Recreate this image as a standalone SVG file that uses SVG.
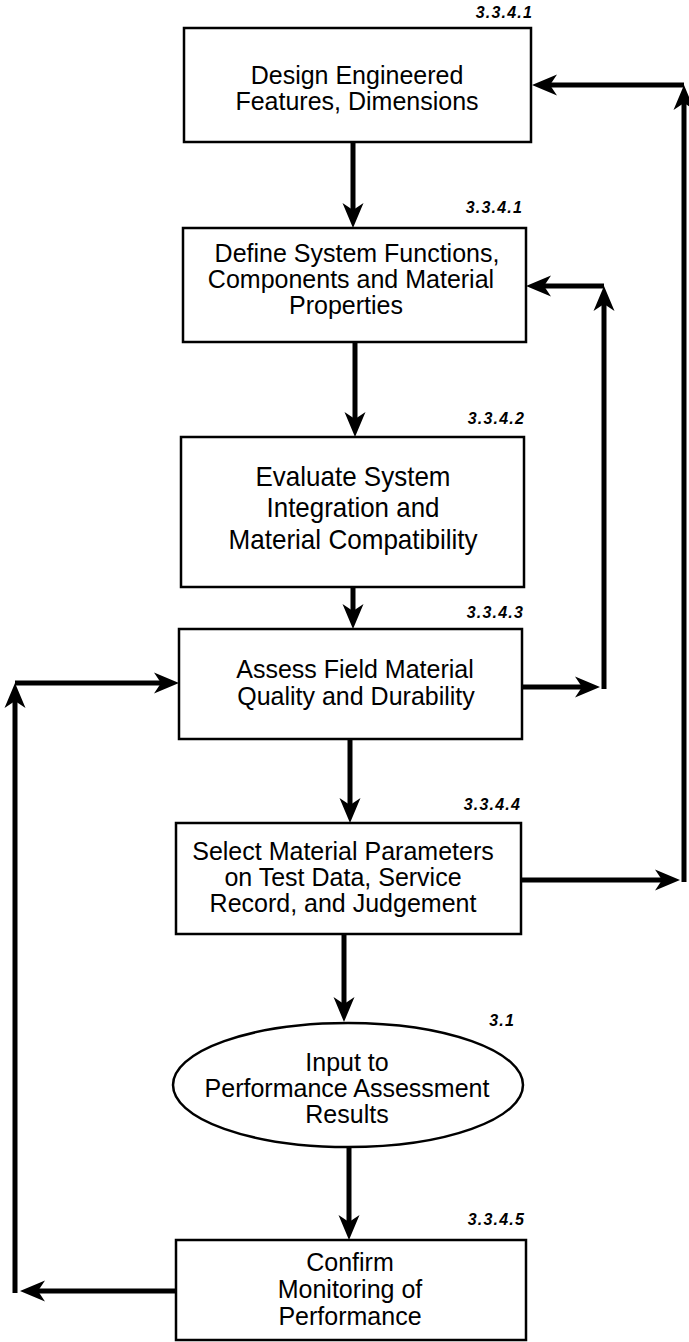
<svg xmlns="http://www.w3.org/2000/svg" width="689" height="1342" viewBox="0 0 689 1342">
<style>
.box{fill:#fff;stroke:#000;stroke-width:2.5}
.t{font-family:"Liberation Sans",Arial,Helvetica,sans-serif;font-size:25px;fill:#000;text-anchor:middle}
.n{font-family:"Liberation Sans",Arial,Helvetica,sans-serif;font-size:16px;font-style:italic;font-weight:bold;fill:#000;text-anchor:end;letter-spacing:1.2px}
.c{fill:none;stroke:#000;stroke-width:5;marker-end:url(#ah)}
</style>
<defs>
<marker id="ah" markerUnits="userSpaceOnUse" viewBox="-26 -11 27 22" markerWidth="27" markerHeight="22" refX="-10" refY="0" orient="auto" overflow="visible">
<path d="M0,0 L-25,-10.5 L-18,0 L-25,10.5 Z" fill="#000"/>
</marker>
</defs>
<rect width="689" height="1342" fill="#fff"/>
<g id="connectors">
<path class="c" d="M353,142 V218"/>
<path class="c" d="M355,342 V427"/>
<path class="c" d="M353,587 V619"/>
<path class="c" d="M350,739 V813"/>
<path class="c" d="M344,934 V1012"/>
<path class="c" d="M349,1147 V1230"/>
<path class="c" d="M522,687 H590"/>
<path class="c" d="M604,689 V296"/>
<path class="c" d="M604,286 H536"/>
<path class="c" d="M521,880 H670"/>
<path class="c" d="M684,882 V95"/>
<path class="c" d="M684,85 H542"/>
<path class="c" d="M176,1291 H30"/>
<path class="c" d="M15,1293 V693"/>
<path class="c" d="M15,683 H169"/>
</g>
<g id="node1">
<rect class="box" x="184" y="28" width="347" height="114"/>
<text class="n" x="533" y="18">3.3.4.1</text>
<text class="t" x="357" y="84">Design Engineered</text>
<text class="t" x="357" y="110">Features, Dimensions</text>
</g>
<g id="node2">
<rect class="box" x="183" y="228" width="343" height="114"/>
<text class="n" x="523" y="213">3.3.4.1</text>
<text class="t" x="357" y="262">Define System Functions,</text>
<text class="t" x="351" y="288">Components and Material</text>
<text class="t" x="346" y="314">Properties</text>
</g>
<g id="node3">
<rect class="box" x="181" y="437" width="343" height="150"/>
<text class="n" x="525" y="424">3.3.4.2</text>
<text class="t" x="353" y="486" style="font-size:28px" textLength="195" lengthAdjust="spacingAndGlyphs">Evaluate System</text>
<text class="t" x="353" y="517" style="font-size:28px" textLength="173" lengthAdjust="spacingAndGlyphs">Integration and</text>
<text class="t" x="353" y="549" style="font-size:28px" textLength="249" lengthAdjust="spacingAndGlyphs">Material Compatibility</text>
</g>
<g id="node4">
<rect class="box" x="179" y="629" width="343" height="110"/>
<text class="n" x="524" y="618">3.3.4.3</text>
<text class="t" x="355" y="678">Assess Field Material</text>
<text class="t" x="356" y="705">Quality and Durability</text>
</g>
<g id="node5">
<rect class="box" x="176" y="823" width="345" height="111"/>
<text class="n" x="521" y="810">3.3.4.4</text>
<text class="t" x="343" y="860">Select Material Parameters</text>
<text class="t" x="343" y="886">on Test Data, Service</text>
<text class="t" x="343" y="912">Record, and Judgement</text>
</g>
<g id="node6">
<ellipse class="box" cx="348" cy="1085" rx="175" ry="62"/>
<text class="n" x="515" y="1026">3.1</text>
<text class="t" x="347" y="1071">Input to</text>
<text class="t" x="347" y="1097">Performance Assessment</text>
<text class="t" x="347" y="1123">Results</text>
</g>
<g id="node7">
<rect class="box" x="176" y="1240" width="350" height="100"/>
<text class="n" x="525" y="1225">3.3.4.5</text>
<text class="t" x="350" y="1271">Confirm</text>
<text class="t" x="350" y="1298">Monitoring of</text>
<text class="t" x="350" y="1325">Performance</text>
</g>
</svg>
